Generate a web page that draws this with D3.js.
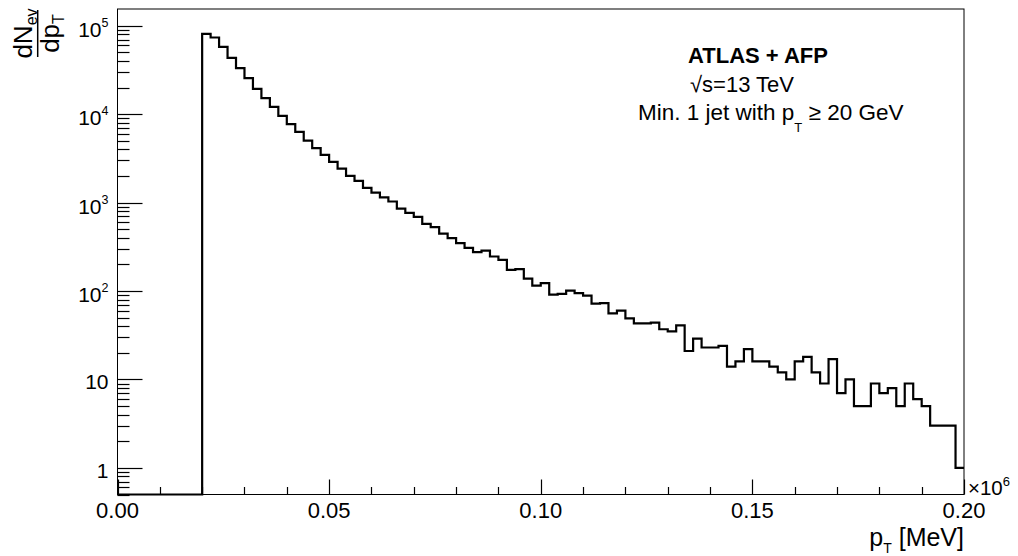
<!DOCTYPE html>
<html>
<head>
<meta charset="utf-8">
<script src="https://cdn.jsdelivr.net/npm/d3@7"></script>
<style>
  body { margin: 0; background: #fff; }
  text { font-family: "Liberation Sans", Arial, Helvetica, sans-serif; fill: #000; }
</style>
</head>
<body>
<div id="graph"></div>
<script>
// histogram binning (MeV x 10^6)
const binLow = 0.0;
const binWidth = 0.002;

// bin contents (first 10 bins are empty)
const counts = [
    0, 0, 0, 0, 0, 0, 0, 0, 0, 0,
    81300, 73800, 57800, 43500, 33200, 25600, 19400, 15200, 12100, 9600,
    7730, 6320, 5040, 4140, 3470, 2890, 2430, 2010, 1760, 1470,
    1300, 1150, 1030, 858, 767, 691, 576, 528, 447, 397,
    348, 308, 276, 286, 246, 225, 174, 177, 138, 115,
    123, 91, 93, 101, 95, 89, 72, 73, 56, 60,
    49, 43, 43, 44, 37, 35, 41, 21, 29, 23,
    23, 24, 14, 16, 22, 16, 16, 14, 12, 10,
    16, 18, 12, 9, 17, 7, 10, 5, 5, 9,
    7, 8, 5, 9, 6, 5, 3, 3, 3, 1
];

const xTickValues = [0, 0.05, 0.10, 0.15, 0.20];
const xTickLabels = ["0.00", "0.05", "0.10", "0.15", "0.20"];
const yTickValues = [1, 10, 100, 1000, 10000, 100000];
const yTickBase = ["1", "10", "10", "10", "10", "10"];
const yTickExp = ["", "", "2", "3", "4", "5"];

function drawHistogram() {
    const width = 1018;
    const height = 556;
    const margins = { top: 9, right: 54, bottom: 61.5, left: 117.5 };

    const xScale = d3.scaleLinear()
        .domain([0, 0.2])
        .range([margins.left, width - margins.right]);

    const yScale = d3.scaleLog()
        .domain([0.5, 1.55e5])
        .range([height - margins.bottom, margins.top]);

    const yMin = yScale.domain()[0];
    const x0 = margins.left, x1 = width - margins.right;
    const y0 = height - margins.bottom, y1 = margins.top;

    const svg = d3.select("#graph").append("svg")
        .attr("width", width)
        .attr("height", height);

    // histogram outline
    const points = [];
    counts.forEach(function(c, i) {
        const lo = binLow + i * binWidth;
        points.push([lo, c], [lo + binWidth, c]);
    });
    const histLine = d3.line()
        .x(d => xScale(d[0]))
        .y(d => yScale(Math.max(d[1], yMin)));

    svg.append("path")
        .datum(points)
        .attr("d", histLine)
        .attr("fill", "none")
        .attr("stroke", "#000")
        .attr("stroke-width", 2.2)
        .attr("stroke-linejoin", "miter");

    // frame
    svg.append("rect")
        .attr("x", x0)
        .attr("y", y1)
        .attr("width", x1 - x0)
        .attr("height", y0 - y1)
        .attr("fill", "none")
        .attr("stroke", "#000")
        .attr("stroke-width", 1);

    // minor ticks
    const xMinor = d3.range(0, 0.2001, 0.01).filter(function(d) {
        return Math.abs(d / 0.05 - Math.round(d / 0.05)) > 1e-6;
    });
    const yMinor = yScale.ticks().filter(function(d) {
        const l = Math.log10(d);
        return Math.abs(l - Math.round(l)) > 1e-6;
    });

    // tick marks, each a two-point path (x ticks go up, y ticks go right)
    const seg = d3.line();
    const tickSegs = [];
    xMinor.forEach(d => {
        const x = Math.round(xScale(d)) + 0.5;
        tickSegs.push([[x, y0], [x, y0 - 7.5]]);
    });
    xTickValues.forEach(d => {
        const x = Math.round(xScale(d)) + 0.5;
        tickSegs.push([[x, y0], [x, y0 - 15]]);
    });
    yMinor.forEach(d => {
        const y = Math.round(yScale(d)) + 0.5;
        tickSegs.push([[x0, y], [x0 + 12, y]]);
    });
    yTickValues.forEach(d => {
        const y = Math.round(yScale(d)) + 0.5;
        tickSegs.push([[x0, y], [x0 + 25, y]]);
    });
    svg.selectAll("path.tick")
        .data(tickSegs)
        .enter().append("path")
        .attr("class", "tick")
        .attr("d", seg)
        .attr("fill", "none")
        .attr("stroke", "#000")
        .attr("stroke-width", 1.2);

    // x tick labels
    svg.selectAll("text.xlab")
        .data(xTickValues)
        .enter().append("text")
        .attr("class", "xlab")
        .attr("x", d => xScale(d))
        .attr("y", y0 + 23)
        .style("text-anchor", "middle")
        .style("font-size", "22px")
        .text((d, i) => xTickLabels[i]);

    // y tick labels with superscripts
    const yLab = svg.selectAll("text.ylab")
        .data(yTickValues)
        .enter().append("text")
        .attr("class", "ylab")
        .attr("x", x0 - 9)
        .attr("y", function(d, i) { return yScale(d) + (yTickExp[i] ? 11 : 10); })
        .style("text-anchor", "end")
        .style("font-size", "21px");
    yLab.append("tspan").text(function(d, i) { return yTickBase[i]; });
    yLab.filter(function(d, i) { return yTickExp[i] !== ""; })
        .append("tspan")
        .attr("dy", -10)
        .style("font-size", "12.5px")
        .text(function(d) { return yTickExp[yTickValues.indexOf(d)]; });

    // x10^6 multiplier
    const mult = svg.append("text")
        .attr("x", x1 + 4)
        .attr("y", y0)
        .style("font-size", "20.5px");
    mult.append("tspan").text("\u00d710");
    mult.append("tspan").attr("dy", -9).style("font-size", "13px").text("6");

    // X axis title
    const xt = svg.append("text")
        .attr("x", x1)
        .attr("y", 546)
        .style("text-anchor", "end")
        .style("font-size", "25px");
    xt.append("tspan").text("p");
    xt.append("tspan").attr("dy", 7).style("font-size", "14px").text("T");
    xt.append("tspan").attr("dy", -7).text(" [MeV]");

    // Y axis title: a fraction rotated by -90 degrees about (cx, cy)
    const cx = 37.7, cy = 33.5;
    const rot = "rotate(-90," + cx + "," + cy + ")";
    svg.append("path")
        .attr("d", seg([[cx, cy - 23.5], [cx, cy + 23.5]]))
        .attr("stroke", "#000")
        .attr("stroke-width", 1.5);
    const num = svg.append("text")
        .attr("x", cx).attr("y", cy - 6)
        .attr("transform", rot)
        .style("text-anchor", "middle")
        .style("font-size", "26px");
    num.append("tspan").text("dN");
    num.append("tspan").attr("dy", 5).style("font-size", "16px").text("ev");
    const den = svg.append("text")
        .attr("x", cx).attr("y", cy + 21)
        .attr("transform", rot)
        .style("text-anchor", "middle")
        .style("font-size", "26px");
    den.append("tspan").text("dp");
    den.append("tspan").attr("dy", 5).style("font-size", "16px").text("T");

    // annotations
    svg.append("text")
        .attr("x", 688).attr("y", 63)
        .style("font-size", "22px")
        .style("font-weight", "bold")
        .text("ATLAS + AFP");
    svg.append("text")
        .attr("x", 690).attr("y", 91.5)
        .style("font-size", "22px")
        .text("\u221as=13 TeV");
    const cut = svg.append("text")
        .attr("x", 638).attr("y", 120)
        .style("font-size", "22.5px");
    cut.append("tspan").text("Min. 1 jet with p");
    cut.append("tspan").attr("dy", 12).style("font-size", "13px").text("T");
    cut.append("tspan").attr("dy", -12).text(" \u2265 20 GeV");
}

drawHistogram();
</script>
</body>
</html>
